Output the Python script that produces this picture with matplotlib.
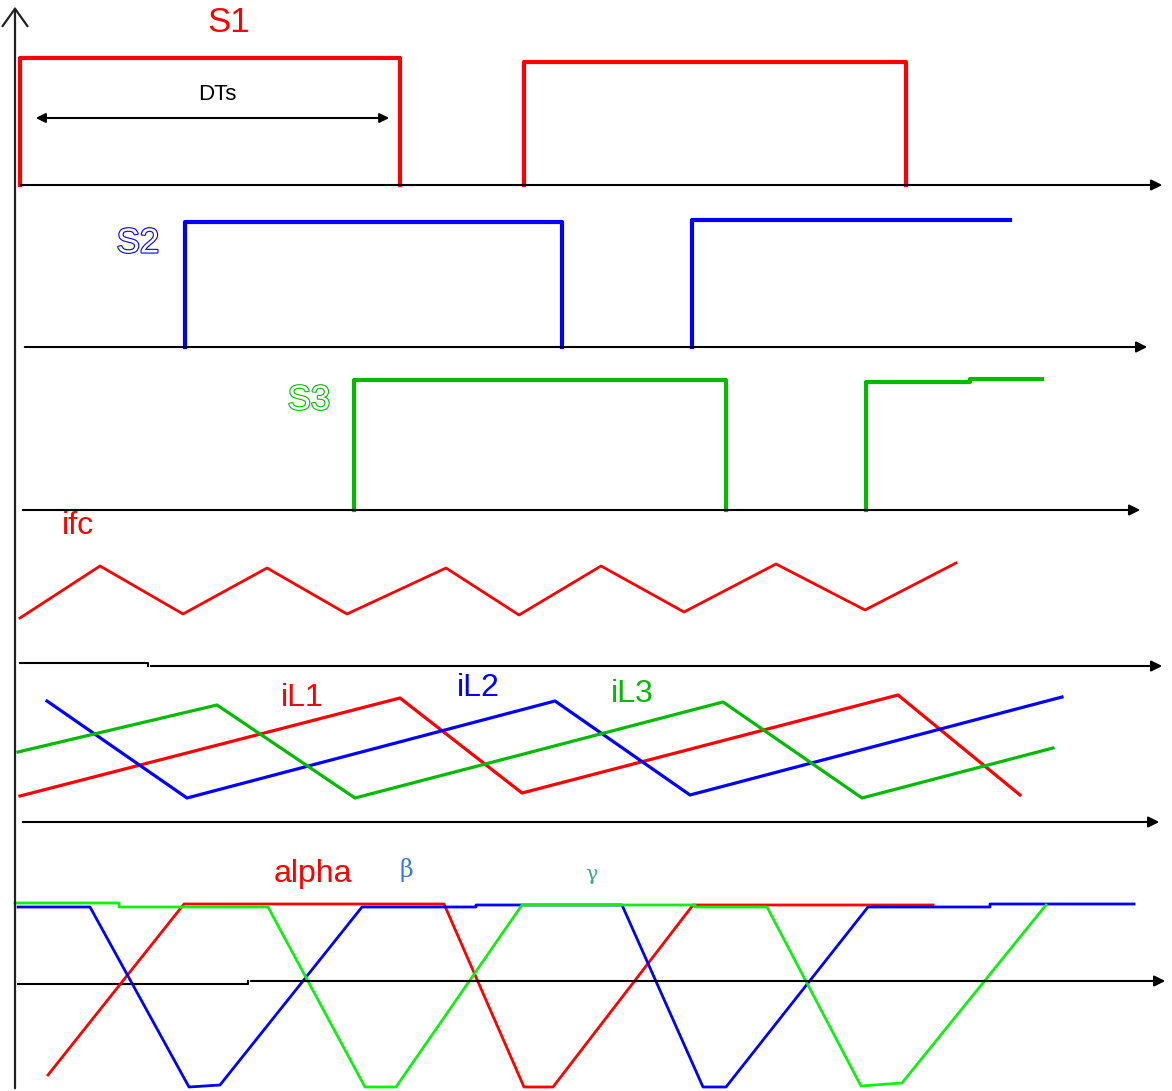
import matplotlib.pyplot as plt
import matplotlib.patheffects as pe

# waveform vertices (pixel units, y grows downward)
s1_a_x = [20, 20, 400, 400]
s1_a_y = [185, 58, 58, 185]
s1_b_x = [524, 524, 906, 906]
s1_b_y = [185, 62, 62, 185]

s2_a_x = [185, 185, 562, 562]
s2_a_y = [347, 222, 222, 347]
s2_b_x = [692, 692, 1010]
s2_b_y = [347, 220, 220]

s3_a_x = [354, 354, 726, 726]
s3_a_y = [510, 380, 380, 510]
s3_b_x = [866, 866, 970, 970, 1042]
s3_b_y = [510, 382, 382, 379, 379]

ifc_x = [20, 100, 183, 267, 347, 446, 519, 601, 684, 776, 865, 956]
ifc_y = [618, 566, 614, 568, 614, 568, 615, 566, 612, 564, 610, 563]

il1_x = [20, 400, 522, 898, 1020]
il1_y = [796, 698, 793, 695, 795]
il2_x = [47, 187, 555, 690, 1062]
il2_y = [701, 798, 701, 795, 697]
il3_x = [18, 217, 355, 723, 862, 1053]
il3_y = [752, 705, 798, 702, 798, 748]

alpha_x = [48, 184, 444, 524, 553, 693, 933]
alpha_y = [1075, 904, 904, 1087, 1087, 905, 905]
beta_x = [18, 90, 189, 220, 362, 476, 476, 522, 622, 703, 726, 868, 990, 990, 1134]
beta_y = [907, 907, 1087, 1085, 907, 907, 905, 905, 905, 1087, 1087, 907, 907, 904, 904]
gamma_x = [15, 119, 119, 268, 365, 396, 522, 695, 695, 767, 861, 902, 1046]
gamma_y = [903, 903, 907, 907, 1087, 1087, 905, 905, 907, 907, 1086, 1083, 905]

# axis baselines: (x list, y list)
base_lines = [
    ([18, 1165], [185, 185]),
    ([22, 1150], [347, 347]),
    ([20, 1143], [510, 510]),
    ([20, 148, 148, 1165], [663, 663, 666, 666]),
    ([20, 1162], [822, 822]),
    ([18, 248, 248, 1168], [984, 984, 981, 981]),
]

RED = '#ff0000'
BLUE = '#0000ff'
GREEN = '#00bb00'
LIME = '#11ee11'

fig = plt.figure(figsize=(11.72, 10.91), dpi=100)
ax = fig.add_axes([0, 0, 1, 1])
ax.set_xlim(0, 1172)
ax.set_ylim(1091, 0)
ax.axis('off')

# vertical axis
ax.annotate('', xy=(15, 4), xytext=(15, 1091),
            arrowprops=dict(arrowstyle='->,head_length=0.42,head_width=0.3',
                            lw=1.6, color='#222222', mutation_scale=30))

for bx, by in base_lines:
    ax.plot(bx[:-1], by[:-1], color='black', lw=1.5)
    ax.annotate('', xy=(bx[-1], by[-1]), xytext=(bx[-2], by[-2]),
                arrowprops=dict(arrowstyle='-|>', lw=1.5, color='black', mutation_scale=16))

# switching signals
ax.plot(s1_a_x, s1_a_y, color=RED, lw=3)
ax.plot(s1_b_x, s1_b_y, color=RED, lw=3)
ax.plot(s2_a_x, s2_a_y, color=BLUE, lw=3)
ax.plot(s2_b_x, s2_b_y, color=BLUE, lw=3)
ax.plot(s3_a_x, s3_a_y, color=GREEN, lw=3)
ax.plot(s3_b_x, s3_b_y, color=GREEN, lw=3)

# DTs arrow
ax.annotate('', xy=(392, 118), xytext=(33, 118),
            arrowprops=dict(arrowstyle='<|-|>', lw=1.5, color='black', mutation_scale=14))

# currents
ax.plot(ifc_x, ifc_y, color=RED, lw=2)
ax.plot(il1_x, il1_y, color=RED, lw=2.3)
ax.plot(il2_x, il2_y, color=BLUE, lw=2.3)
ax.plot(il3_x, il3_y, color=GREEN, lw=2.3)

ax.plot(alpha_x, alpha_y, color=RED, lw=2)
ax.plot(beta_x, beta_y, color=BLUE, lw=2)
ax.plot(gamma_x, gamma_y, color=LIME, lw=2)

fam = ['Liberation Sans', 'DejaVu Sans']
hollow_blue = [pe.withStroke(linewidth=1.6, foreground=BLUE)]
hollow_green = [pe.withStroke(linewidth=1.6, foreground=GREEN)]

ax.text(229, 23, 'S1', color=RED, fontsize=25, family=fam, ha='center', va='center')
ax.text(217, 94, 'DTs', color='black', fontsize=16, family=fam, ha='center', va='center')
ax.text(138, 243, 'S2', color='white', fontsize=25, family=fam, ha='center', va='center',
        path_effects=hollow_blue)
ax.text(309, 400, 'S3', color='white', fontsize=25, family=fam, ha='center', va='center',
        path_effects=hollow_green)
ax.text(78, 526, 'ifc', color=RED, fontsize=23, family=fam, ha='center', va='center')
ax.text(302, 698, 'iL1', color=RED, fontsize=23, family=fam, ha='center', va='center')
ax.text(478, 688, 'iL2', color=BLUE, fontsize=23, family=fam, ha='center', va='center')
ax.text(632, 694, 'iL3', color=GREEN, fontsize=23, family=fam, ha='center', va='center')
ax.text(313, 874, 'alpha', color=RED, fontsize=23, family=fam, ha='center', va='center')
ax.text(406, 870, 'β', color='#3a78d8', fontsize=17, family=['DejaVu Serif'], ha='center', va='center')
ax.text(592, 874, 'γ', color='#3aa88a', fontsize=15, family=['DejaVu Serif'], ha='center', va='center')

fig.savefig('out.png', dpi=100)
